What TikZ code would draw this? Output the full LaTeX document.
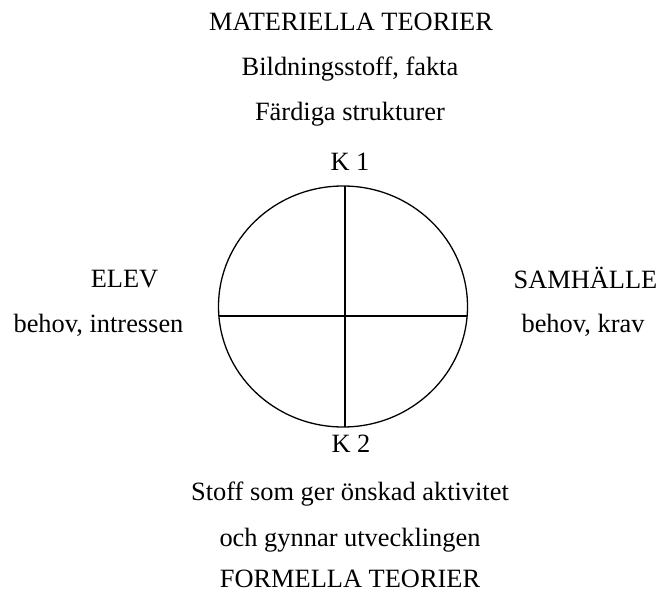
\documentclass[tikz,border=0pt]{standalone}
\usepackage{fontspec}
\setmainfont{Liberation Serif}
\begin{document}
\begin{tikzpicture}[
  x=1pt, y=1pt,
  font=\fontsize{26.4}{31}\selectfont,
  lbl/.style={anchor=base, inner sep=0pt},
  rim/.style={line width=1.3pt},
]
\useasboundingbox (0,0) rectangle (660,594);
% upper column
\node[lbl] (mat)  at (351,563) {MATERIELLA TEORIER};
\node[lbl] (bild) at (350,518) {Bildningsstoff, fakta};
\node[lbl] (fard) at (350,473) {Färdiga strukturer};
\node[lbl] (k1)   at (350,423) {K 1};
% sides
\node[lbl] (elev) at (124.5,306) {ELEV};
\node[lbl] (eb)   at (98.5,261)  {behov, intressen};
\node[lbl] (samh) at (585.5,305) {SAMHÄLLE};
\node[lbl] (sb)   at (583,261) {behov, krav};
% lower column
\node[lbl] (k2)   at (351,142) {K 2};
\node[lbl] (stof) at (350,94)  {Stoff som ger önskad aktivitet};
\node[lbl] (och)  at (350,48)  {och gynnar utvecklingen};
\node[lbl] (form) at (350,6.5) {FORMELLA TEORIER};
% the circle and its cross
\coordinate (mid) at (343,287.5);
\draw[rim] (mid) ellipse [x radius=124.5, y radius=120.5];
\coordinate (n) at (345,408);
\coordinate (s) at (345,167);
\coordinate (w) at (218.9,278);
\coordinate (e) at (467.1,278);
\draw[rim] (n) -- (s);
\draw[rim] (w) -- (e);
\end{tikzpicture}
\end{document}
